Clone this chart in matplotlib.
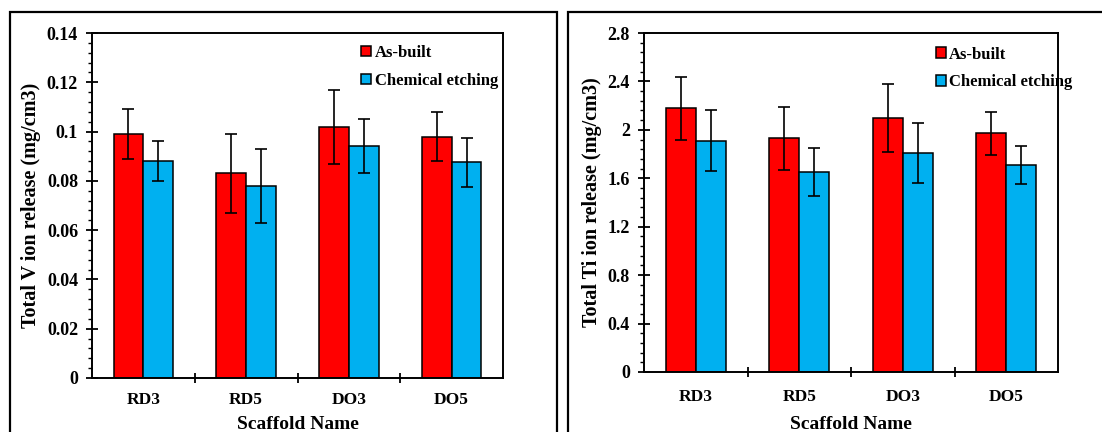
import matplotlib
matplotlib.use("Agg")
import matplotlib.pyplot as plt
from matplotlib.patches import Rectangle
from matplotlib.ticker import MultipleLocator, FixedLocator, NullFormatter, FuncFormatter
import numpy as np

plt.rcParams['font.family'] = ['Liberation Serif', 'DejaVu Serif']
plt.rcParams['font.weight'] = 'bold'

categories = ["RD3", "RD5", "DO3", "DO5"]
series_names = ["As-built", "Chemical etching"]

v_asbuilt = [0.099, 0.083, 0.102, 0.098]
v_asbuilt_err = [0.010, 0.016, 0.015, 0.010]
v_etching = [0.088, 0.078, 0.094, 0.0875]
v_etching_err = [0.008, 0.015, 0.011, 0.010]

ti_asbuilt = [2.18, 1.93, 2.10, 1.97]
ti_asbuilt_err = [0.26, 0.26, 0.28, 0.18]
ti_etching = [1.91, 1.65, 1.81, 1.71]
ti_etching_err = [0.25, 0.20, 0.25, 0.16]

colors = ["#FF0000", "#00B0F0"]

W, H = 1102, 432
fig = plt.figure(figsize=(W / 100, H / 100), dpi=100)

def fx(px):
    return px / W

def fy(py):
    return 1 - py / H

# outer frames
fig.add_artist(Rectangle((fx(10), fy(445)), fx(557 - 10), fy(12) - fy(445),
                         transform=fig.transFigure, fill=False, lw=1.6, ec="black"))
fig.add_artist(Rectangle((fx(568), fy(445)), fx(1130 - 568), fy(12) - fy(445),
                         transform=fig.transFigure, fill=False, lw=1.6, ec="black"))

def panel(rect, a, ae, e, ee, ymax, major, minor, ylabel, leg_anchor, xpad, xlpad):
    ax = fig.add_axes(rect)
    x = np.arange(len(categories))
    w = 0.29
    ek = dict(ecolor="black", elinewidth=1.2, capsize=4, capthick=1.2)
    ax.bar(x - w / 2, a, w, yerr=ae, color=colors[0], edgecolor="black",
           linewidth=1.1, label=series_names[0], error_kw=ek, zorder=2)
    ax.bar(x + w / 2, e, w, yerr=ee, color=colors[1], edgecolor="black",
           linewidth=1.1, label=series_names[1], error_kw=ek, zorder=2)
    ax.set_xlim(-0.5, len(categories) - 0.5)
    ax.set_ylim(0, ymax)
    ax.yaxis.set_major_locator(MultipleLocator(major))
    ax.yaxis.set_minor_locator(MultipleLocator(minor))
    ax.xaxis.set_major_locator(FixedLocator([0.5, 1.5, 2.5]))
    ax.xaxis.set_major_formatter(NullFormatter())
    ax.xaxis.set_minor_locator(FixedLocator(x))
    ax.set_xticklabels(categories, minor=True)
    ax.tick_params(axis="x", which="major", direction="inout", length=7, width=1.3)
    ax.tick_params(axis="x", which="minor", length=0, pad=xpad, labelsize=12.5)
    ax.tick_params(axis="y", which="major", direction="inout", length=8, width=1.3,
                   labelsize=13, pad=6)
    ax.tick_params(axis="y", which="minor", direction="out", length=3, width=1.0)
    for sp in ax.spines.values():
        sp.set_linewidth(1.4)
    ax.set_ylabel(ylabel, fontsize=14.5, fontweight="bold", labelpad=4)
    ax.set_xlabel("Scaffold Name", fontsize=14, fontweight="bold", labelpad=xlpad)
    fmt = lambda v, p: ("%g" % round(v, 4))
    ax.yaxis.set_major_formatter(FuncFormatter(fmt))
    ax.legend(loc="upper left", frameon=False, fontsize=12, handlelength=0.6,
              handleheight=0.6, handletextpad=0.2, labelspacing=0.7,
              borderpad=0, borderaxespad=0, bbox_to_anchor=leg_anchor)
    return ax

panel([fx(92), fy(378), fx(503 - 92), fy(33) - fy(378)],
      v_asbuilt, v_asbuilt_err, v_etching, v_etching_err,
      0.14, 0.02, 0.004, "Total V ion release (mg/cm3)",
      (0.655, 0.965), 10, 6)
panel([fx(644), fy(372), fx(1058 - 644), fy(33) - fy(372)],
      ti_asbuilt, ti_asbuilt_err, ti_etching, ti_etching_err,
      2.8, 0.4, 0.08, "Total Ti ion release (mg/cm3)",
      (0.705, 0.96), 12, 8)

fig.savefig("out.png", dpi=100)
